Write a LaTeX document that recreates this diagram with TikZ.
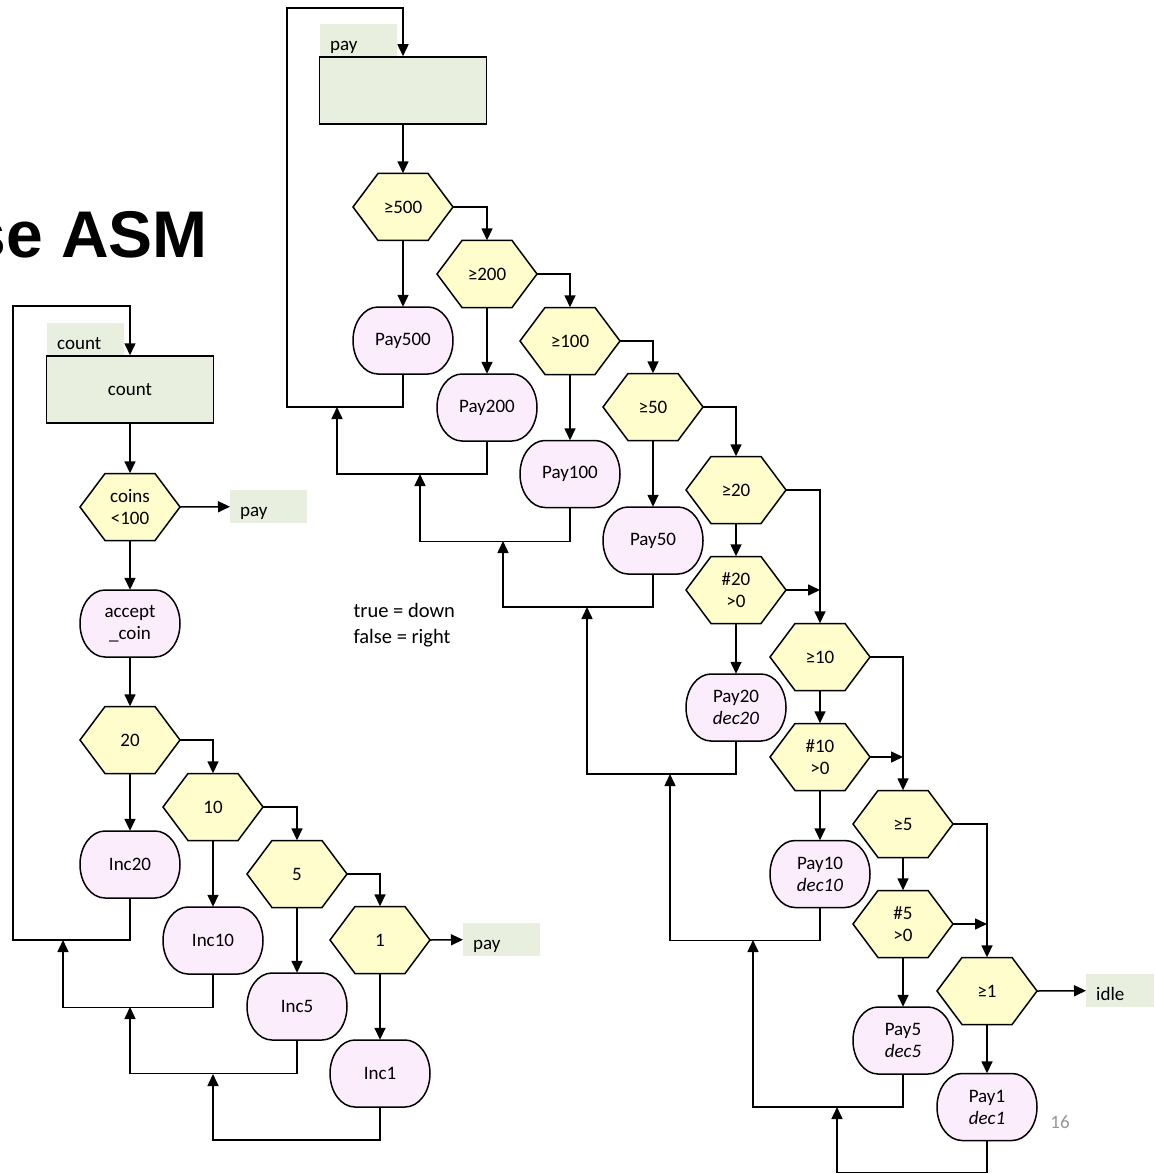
\documentclass[tikz,border=0pt]{standalone}
\usepackage{fontspec}
\setmainfont{Carlito}
\newfontfamily\headfont{Liberation Sans}
\usetikzlibrary{arrows.meta,calc}

\definecolor{stategreen}{RGB}{233,239,223}
\definecolor{decyellow}{RGB}{255,253,204}
\definecolor{actpink}{RGB}{252,237,252}
\definecolor{pagegrey}{RGB}{150,150,150}

\tikzset{
  every node/.style={font=\fontsize{19}{22}\selectfont},
  line/.style={line width=1.5pt},
  flow/.style={line, -{Triangle[length=12pt,width=11pt]}},
  statebox/.style={draw, line width=1.5pt, fill=stategreen, minimum width=167pt,
    minimum height=67pt, inner sep=0pt},
  tab/.style={fill=stategreen, text width=57pt, inner xsep=10pt, inner ysep=0pt,
    minimum height=33pt, text height=19pt, text depth=0pt, align=left, anchor=north west},
  slot/.style={minimum width=100pt, minimum height=67pt, inner sep=0pt, align=center},
}

% decision box: hexagon 100 x 67 around (x,y)
\newcommand\decision[4]{%
  \filldraw[line, fill=decyellow, line join=miter]
    (#2-50,#3) -- (#2-25,#3-33.5) -- (#2+25,#3-33.5) -- (#2+50,#3)
    -- (#2+25,#3+33.5) -- (#2-25,#3+33.5) -- cycle;
  \node[slot] (#1) at (#2,#3) {#4};}

% conditional output: capsule 100 x 67 with elliptic ends
\newcommand\action[4]{%
  \filldraw[line, fill=actpink]
    (#2-25,#3-33.5) -- (#2+25,#3-33.5)
    arc[start angle=90,end angle=-90,x radius=25pt,y radius=33.5pt]
    -- (#2-25,#3+33.5)
    arc[start angle=270,end angle=90,x radius=25pt,y radius=33.5pt] -- cycle;
  \node[slot] (#1) at (#2,#3) {#4};}

\begin{document}
\begin{tikzpicture}[x=1pt,y=-1pt]
\useasboundingbox (0,0) rectangle (1155,1174);

% heading and page number
\node[anchor=base east, inner sep=0pt, font=\headfont\bfseries\fontsize{66}{70}\selectfont]
  (title) at (208,258) {se ASM};
\node[text=pagegrey] (pagenum) at (1060,1122) {16};
\node[anchor=west, align=left, font=\fontsize{20.5}{26}\selectfont] (legend) at (350,625)
  {true = down\\false = right};

% ---------------- count state ----------------
\node[tab] (cntTab) at (47,323) {count};
\node[statebox] (cnt) at (130,389.5) {count};
\decision{hCoins}{130}{507}{coins\\<100}
\node[tab] (payTabA) at (230,490) {pay};
\action{accept}{130}{623.5}{accept\\\_coin}
\decision{h20}{130}{740}{20}
\decision{h10}{213}{807}{10}
\decision{h5}{297}{874}{5}
\decision{h1}{380}{940}{1}
\node[tab] (payTabB) at (463,923) {pay};
\action{inc20}{130}{864.5}{Inc20}
\action{inc10}{213}{940.5}{Inc10}
\action{inc5}{297}{1006.5}{Inc5}
\action{inc1}{380}{1073.5}{Inc1}

\draw[flow] (cnt.south) -- (hCoins.north);
\draw[flow] (hCoins.east) -- (payTabA.west);
\draw[flow] (hCoins.south) -- (accept.north);
\draw[flow] (accept.south) -- (h20.north);
\draw[flow] (h20.east) -| (h10.north);
\draw[flow] (h10.east) -| (h5.north);
\draw[flow] (h5.east) -| (h1.north);
\draw[flow] (h1.east) -- (payTabB.west);
\draw[flow] (h20.south) -- (inc20.north);
\draw[flow] (h10.south) -- (inc10.north);
\draw[flow] (h5.south) -- (inc5.north);
\draw[flow] (h1.south) -- (inc1.north);

\coordinate (lTop) at (13,306);
\coordinate (lBot) at (13,940);
\coordinate (j10) at (63,940);
\coordinate (j5) at (130,1007);
\coordinate (j1) at (213,1074);
\draw[flow] (inc20.south) |- (lBot) -- (lTop) -| (cnt.north);
\draw[flow] (inc10.south) -- ++(0,33.5) -| (j10);
\draw[flow] (inc5.south) -- ++(0,33.5) -| (j5);
\draw[flow] (inc1.south) -- ++(0,33) -| (j1);

% ---------------- pay state ----------------
\node[tab] (payTop) at (320,24) {pay};
\node[statebox] (pbox) at (403,90.5) {};
\decision{g500}{403}{207}{≥500}
\decision{g200}{487}{274}{≥200}
\decision{g100}{570}{341}{≥100}
\decision{g50}{653}{407}{≥50}
\decision{g20}{736}{490}{≥20}
\decision{n20}{736}{590}{\#20\\>0}
\decision{g10}{820}{657}{≥10}
\decision{n10}{820}{757}{\#10\\>0}
\decision{g5}{903}{824}{≥5}
\decision{n5}{903}{924}{\#5\\>0}
\decision{g1}{987}{991}{≥1}
\node[tab, text width=48pt] (idle) at (1086,974) {idle};

\action{p500}{403}{340.5}{Pay500}
\action{p200}{487}{407.5}{Pay200}
\action{p100}{570}{474}{Pay100}
\action{p50}{653}{540.5}{Pay50}
\action{p20}{736}{707.5}{Pay20\\\textit{dec20}}
\action{p10}{820}{874}{Pay10\\\textit{dec10}}
\action{p5}{903}{1040.5}{Pay5\\\textit{dec5}}
\action{p1}{987}{1107}{Pay1\\\textit{dec1}}

\draw[flow] (pbox.south) -- (g500.north);
\draw[flow] (g500.east) -| (g200.north);
\draw[flow] (g200.east) -| (g100.north);
\draw[flow] (g100.east) -| (g50.north);
\draw[flow] (g50.east) -| (g20.north);
\draw[flow] (g20.east) -| (g10.north);
\draw[flow] (g10.east) -| (g5.north);
\draw[flow] (g5.east) -| (g1.north);
\draw[flow] (g20.south) -- (n20.north);
\draw[flow] (g10.south) -- (n10.north);
\draw[flow] (g5.south) -- (n5.north);
\draw[flow] (n20.east) -- (n20.east -| g10.north);
\draw[flow] (n10.east) -- (n10.east -| g5.north);
\draw[flow] (n5.east) -- (n5.east -| g1.north);
\draw[flow] (g1.east) -- (idle.west);

\draw[flow] (g500.south) -- (p500.north);
\draw[flow] (g200.south) -- (p200.north);
\draw[flow] (g100.south) -- (p100.north);
\draw[flow] (g50.south) -- (p50.north);
\draw[flow] (n20.south) -- (p20.north);
\draw[flow] (n10.south) -- (p10.north);
\draw[flow] (n5.south) -- (p5.north);
\draw[flow] (g1.south) -- (p1.north);

\coordinate (rTop) at (287,8);
\coordinate (rBot) at (287,407);
\coordinate (r500) at (337,407);
\coordinate (r200) at (420,474);
\coordinate (r100) at (503,541);
\coordinate (r50) at (587,607);
\coordinate (r20) at (670,774);
\coordinate (r10) at (753,940);
\coordinate (r5) at (837,1107);
\draw[flow] (p500.south) |- (rBot) -- (rTop) -| (pbox.north);
\draw[flow] (p200.south) -- ++(0,33) -| (r500);
\draw[flow] (p100.south) -- ++(0,34) -| (r200);
\draw[flow] (p50.south) -- ++(0,33) -| (r100);
\draw[flow] (p20.south) -- ++(0,33) -| (r50);
\draw[flow] (p10.south) -- ++(0,33) -| (r20);
\draw[flow] (p5.south) -- ++(0,33) -| (r10);
\draw[flow] (p1.south) -- ++(0,32) -| (r5);
\end{tikzpicture}
\end{document}
